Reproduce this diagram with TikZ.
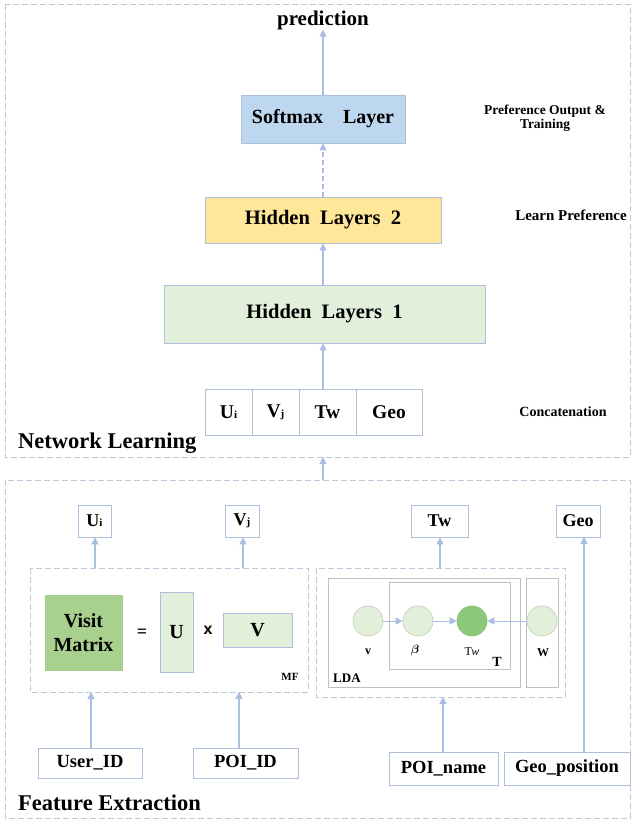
\documentclass[tikz,border=0pt]{standalone}
\usepackage{amsmath}
\usepackage{fontspec}
\setmainfont{Liberation Serif}
\newfontfamily\sansf{Liberation Sans}
\usetikzlibrary{arrows.meta}
\definecolor{edgeblue}{HTML}{AEBFDC}
\definecolor{arrowblue}{HTML}{A8BEE2}
\definecolor{dashgrey}{HTML}{BCC9DA}
\definecolor{softblue}{HTML}{BDD7EE}
\definecolor{hidyellow}{HTML}{FFE699}
\definecolor{lightgreen}{HTML}{E2EFDA}
\definecolor{midgreen}{HTML}{A9D18E}
\definecolor{darkgreen}{HTML}{8CC878}
\definecolor{plategrey}{HTML}{BFBFBF}
\definecolor{circedge}{HTML}{C8D6BE}
\tikzset{
  fs/.style={font=\fontsize{#1}{#1}\selectfont\bfseries},
  box/.style={draw=edgeblue, line width=0.8pt, inner sep=0pt, align=center},
  arr/.style={draw=arrowblue, line width=1.2pt, -{Triangle[length=7pt,width=7pt]}},
  dbox/.style={draw=dashgrey, line width=1pt, dash pattern=on 6pt off 3pt},
  plate/.style={draw=plategrey, line width=0.7pt},
  circ/.style={circle, draw=circedge, line width=0.8pt, fill=lightgreen, minimum size=30pt, inner sep=0pt},
  lbl/.style={inner sep=0pt, align=center}
}
\begin{document}
\begin{tikzpicture}[x=1pt, y=-1pt]
\useasboundingbox[fill=white] (0,0) rectangle (633,822);
% outer dashed boxes
\draw[dbox] (5,4) rectangle (630,457);
\draw[dbox] (5,480) rectangle (630,818);
\coordinate (nlb) at (323,457);
\coordinate (fet) at (323,480);
% network learning part
\node[lbl, fs=21] (pred) at (323,20) {prediction};
\node[box, fill=softblue, minimum width=164pt, minimum height=48pt, fs=20] (soft) at (323,119) {Softmax\quad Layer};
\node[box, fill=hidyellow, minimum width=236pt, minimum height=46pt, fs=20.5] (hid2) at (323,220) {Hidden\enspace Layers\enspace 2};
\node[box, fill=lightgreen, minimum width=321pt, minimum height=58pt, fs=20.5] (hid1) at (324.5,314) {Hidden\enspace Layers\enspace 1};
\node[box, fill=white, minimum width=47pt, minimum height=46pt, fs=19.5] (cu) at (228.5,412) {U{\fontsize{11}{11}\selectfont i}};
\node[box, fill=white, minimum width=47pt, minimum height=46pt, fs=19.5] (cv) at (275.5,412) {V{\fontsize{11}{11}\selectfont j}};
\node[box, fill=white, minimum width=57pt, minimum height=46pt, fs=19.5] (ct) at (327.5,412) {Tw};
\node[box, fill=white, minimum width=66pt, minimum height=46pt, fs=19.5] (cg) at (389,412) {Geo};
\node[lbl, fs=13.5] (lout) at (545,118) {Preference Output \&\\[1pt]Training};
\node[lbl, fs=15] (llearn) at (571,215) {Learn Preference};
\node[lbl, fs=14] (lconc) at (563,412) {Concatenation};
\node[lbl, fs=22.5, anchor=west] (nl) at (18,443) {Network Learning};
\draw[arr] (soft.north) -- (pred.south);
\draw[arr, dash pattern=on 5pt off 3pt] (hid2.north) -- (soft.south);
\draw[arr] (hid1.north -| hid2.north) -- (hid2.south);
\draw[arr] (ct.north -| hid2.north) -- (hid1.south -| hid2.north);
\draw[arr] (fet) -- (nlb);
% feature extraction part
\node[box, fill=white, minimum width=33pt, minimum height=32pt, fs=18] (fu) at (94.5,521) {U{\fontsize{11}{11}\selectfont i}};
\node[box, fill=white, minimum width=34pt, minimum height=32pt, fs=18] (fv) at (242,521) {V{\fontsize{11}{11}\selectfont j}};
\node[box, fill=white, minimum width=57pt, minimum height=32pt, fs=18] (ft) at (439.5,521) {Tw};
\node[box, fill=white, minimum width=44pt, minimum height=32pt, fs=18] (fg) at (578,521) {Geo};
\draw[dbox] (30,568) rectangle (308,692);
\coordinate (mfn1) at (95,568);
\coordinate (mfn2) at (243,568);
\coordinate (mfs1) at (91,692);
\coordinate (mfs2) at (239,692);
\draw[dbox] (316,568) rectangle (565,697);
\coordinate (ldan) at (440,568);
\coordinate (ldas) at (443,697);
\node[box, draw=midgreen, fill=midgreen, minimum width=77pt, minimum height=75pt, fs=20, align=center] (vm) at (83.5,632.5) {Visit\\[4pt]Matrix};
\node[lbl, fs=18] (eq) at (142,633) {=};
\node[box, fill=lightgreen, minimum width=33pt, minimum height=80pt, fs=20] (mu) at (176.5,632) {U};
\node[lbl, font=\sansf\bfseries\fontsize{16}{16}\selectfont] (times) at (208,630) {x};
\node[box, fill=lightgreen, minimum width=69pt, minimum height=34pt, fs=20] (mv) at (257.5,630) {V};
\node[lbl, fs=11] (mf) at (290,677) {MF};
% LDA plates
\draw[plate] (328,578) rectangle (520,687);
\draw[plate] (389,582) rectangle (510,669);
\draw[plate] (526,578) rectangle (558,687);
\node[circ] (cvv) at (368,621) {};
\node[circ] (cb) at (418,621) {};
\node[circ, fill=darkgreen, draw=darkgreen] (ctw) at (472,621) {};
\node[circ] (cw) at (542,621) {};
\node[lbl, fs=12] (lv) at (368,652) {v};
\node[lbl, fs=13] (lb) at (415,650) {$\boldsymbol{\beta}$};
\node[lbl, font=\fontsize{12}{12}\selectfont] (ltw) at (472,652) {T\kern-0.5pt\textit{w}};
\node[lbl, fs=14] (lt) at (497,662) {T};
\node[lbl, fs=12] (lw) at (543,653) {W};
\node[lbl, fs=13, anchor=west] (lda) at (333,678) {LDA};
\draw[arr, line width=1pt] (cvv) -- (cb);
\draw[arr, line width=1pt] (cb) -- (ctw);
\draw[arr, line width=1pt] (cw) -- (ctw);
% input boxes
\node[box, fill=white, minimum width=104pt, minimum height=30pt, fs=18.5] (uid) at (90,763) {User\_ID};
\node[box, fill=white, minimum width=105pt, minimum height=30pt, fs=18.5] (pid) at (245.5,763) {POI\_ID};
\node[box, fill=white, minimum width=109pt, minimum height=33pt, fs=18.5] (pname) at (443.5,768.5) {POI\_name};
\node[box, fill=white, minimum width=126pt, minimum height=33pt, fs=18.5] (gpos) at (567,768.5) {Geo\_position};
\node[lbl, fs=22.5, anchor=west] (fe) at (18,803) {Feature Extraction};
\coordinate (gtop) at (584,752);
\coordinate (gbot) at (584,537);
% connectors
\draw[arr] (mfn1) -- (mfn1 |- fu.south);
\draw[arr] (mfn2) -- (mfn2 |- fv.south);
\draw[arr] (ldan) -- (ldan |- ft.south);
\draw[arr] (gtop) -- (gbot);
\draw[arr] (uid.north -| mfs1) -- (mfs1);
\draw[arr] (pid.north -| mfs2) -- (mfs2);
\draw[arr] (pname.north -| ldas) -- (ldas);
\end{tikzpicture}
\end{document}
